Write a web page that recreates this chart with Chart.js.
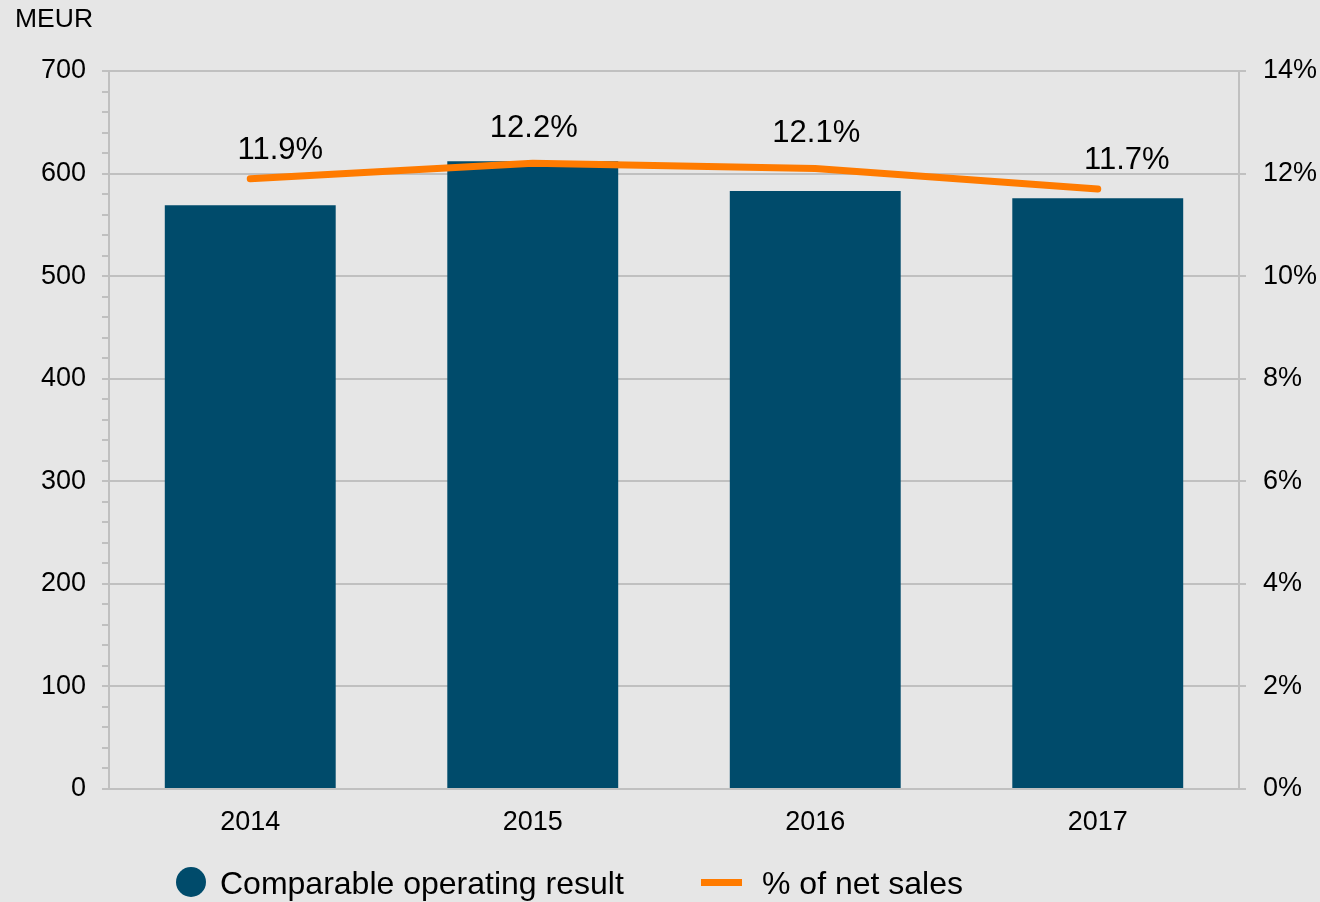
<!DOCTYPE html>
<html>
<head>
<meta charset="utf-8">
<script src="https://cdn.jsdelivr.net/npm/chart.js@4"></script>
<style>
  html, body { margin: 0; padding: 0; background: #e6e6e6; }
  body { width: 1320px; height: 902px; position: relative; overflow: hidden; font-family: "Liberation Sans", Arial, sans-serif; }
  #wrap { position: absolute; left: 0; top: 0; width: 1320px; height: 902px; }
  .unit { position: absolute; left: 15px; top: 3px; font-size: 26.5px; color: #000; }
  .legend { position: absolute; top: 862px; height: 40px; font-size: 32px; color: #000; white-space: nowrap; }
  .legend span.txt { position: absolute; top: 3px; }
  .dot { position: absolute; width: 30px; height: 30px; border-radius: 50%; background: #004b6b; top: 5px; }
  .dash { position: absolute; width: 41px; height: 7px; background: #ff7b00; top: 17px; }
</style>
</head>
<body>
<div id="wrap"><canvas id="chart"></canvas></div>
<div class="unit">MEUR</div>
<div class="legend" style="left:176px"><div class="dot" style="left:0"></div><span class="txt" style="left:44px">Comparable operating result</span></div>
<div class="legend" style="left:701px"><div class="dash" style="left:0"></div><span class="txt" style="left:61px">% of net sales</span></div>
<script>
// data
const years = ["2014", "2015", "2016", "2017"];
const operatingResult = [569, 612, 583, 576];   // MEUR
const pctOfSales = [11.9, 12.2, 12.1, 11.7];    // %

const gridGray = "#c0c0c0";

// draws the % labels above the line points
const pctLabels = {
    id: "pctLabels",
    afterDatasetsDraw(chart) {
        const meta = chart.getDatasetMeta(1);
        const dx = [30, 1, 1, 29];
        const dy = [-28, -35, -35, -29];
        const ctx = chart.ctx;
        ctx.save();
        ctx.font = '31px "Liberation Sans", Arial, sans-serif';
        ctx.fillStyle = "#000";
        ctx.textAlign = "center";
        ctx.textBaseline = "middle";
        meta.data.forEach((pt, i) => {
            ctx.fillText(pctOfSales[i].toFixed(1) + "%", pt.x + dx[i], pt.y + dy[i]);
        });
        ctx.restore();
    }
};

Chart.defaults.font.family = '"Liberation Sans", Arial, sans-serif';
Chart.defaults.color = "#000";

new Chart(document.getElementById("chart"), {
    type: "bar",
    data: {
        labels: years,
        datasets: [{
            label: "Comparable operating result",
            data: operatingResult,
            backgroundColor: "#004b6b",
            borderWidth: 0,
            barPercentage: 0.605,
            categoryPercentage: 1,
            yAxisID: "y",
            order: 2
        }, {
            type: "line",
            label: "% of net sales",
            data: pctOfSales,
            borderColor: "#ff7b00",
            borderWidth: 7,
            borderCapStyle: "round",
            borderJoinStyle: "round",
            pointRadius: 0,
            tension: 0,
            yAxisID: "y1",
            order: 1
        }]
    },
    options: {
        responsive: true,
        maintainAspectRatio: false,
        animation: false,
        layout: { padding: { top: 71, left: 0, right: 0, bottom: 0 } },
        plugins: {
            legend: { display: false },
            tooltip: { enabled: false }
        },
        scales: {
            x: {
                grid: { display: false, drawTicks: false },
                border: { display: true, color: gridGray, width: 2 },
                ticks: { font: { size: 27 }, padding: 17 },
                afterFit(scale) { scale.height = 113; }
            },
            y: {
                position: "left",
                min: 0,
                max: 700,
                ticks: {
                    stepSize: 20,
                    autoSkip: false,
                    font: { size: 27 },
                    padding: 16,
                    callback: v => (v % 100 === 0 ? v : "")
                },
                grid: {
                    color: ctx => (ctx.tick && ctx.tick.value % 100 === 0 ? gridGray : "rgba(0,0,0,0)"),
                    lineWidth: 2,
                    tickColor: gridGray,
                    tickWidth: 2,
                    tickLength: 7
                },
                border: { display: true, color: gridGray, width: 2 },
                afterFit(scale) { scale.width = 109; }
            },
            y1: {
                position: "right",
                min: 0,
                max: 14,
                ticks: {
                    stepSize: 2,
                    font: { size: 27 },
                    padding: 17,
                    callback: v => v + "%"
                },
                grid: {
                    drawOnChartArea: false,
                    color: gridGray,
                    lineWidth: 2,
                    tickColor: gridGray,
                    tickLength: 7
                },
                border: { display: true, color: gridGray, width: 2 },
                afterFit(scale) { scale.width = 81; }
            }
        }
    },
    plugins: [pctLabels]
});
</script>
</body>
</html>
